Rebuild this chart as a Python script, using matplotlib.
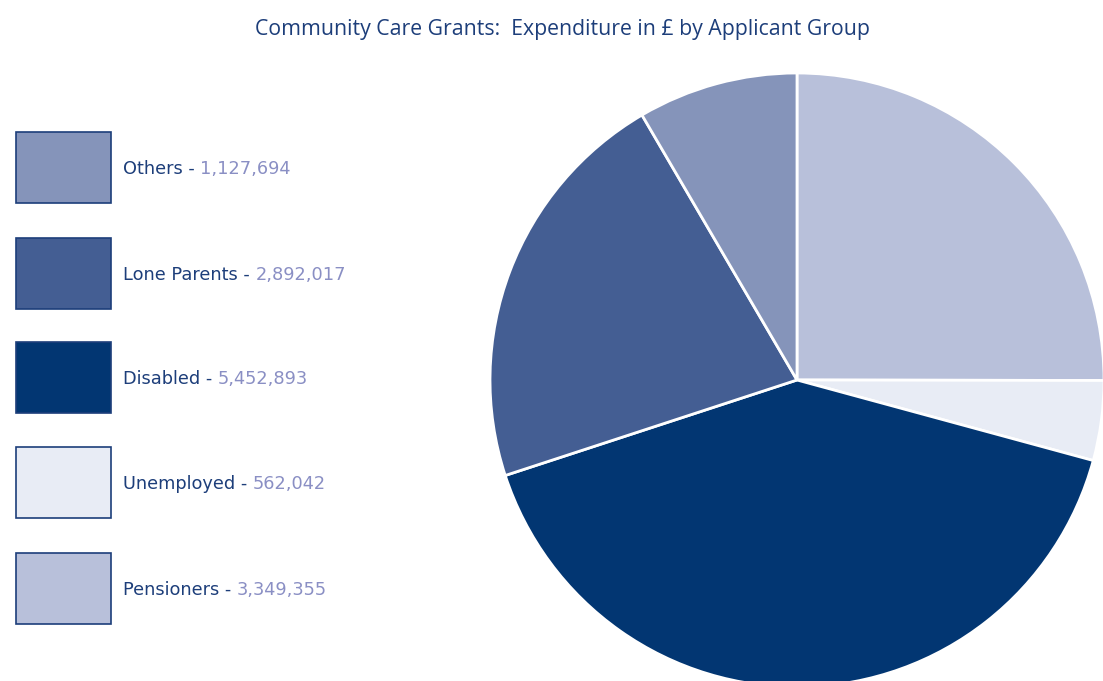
import matplotlib
matplotlib.use("Agg")
import matplotlib.pyplot as plt
from matplotlib.patches import Rectangle

categories = ["Pensioners", "Unemployed", "Disabled", "Lone Parents", "Others"]
values = [3349355, 562042, 5452893, 2892017, 1127694]
colors = ["#B8C0DA", "#E8ECF5", "#023672", "#445E93", "#8594BA"]
title = "Community Care Grants:  Expenditure in £ by Applicant Group"

W, H = 1103, 681
fig = plt.figure(figsize=(W / 100, H / 100), dpi=100)
fig.patch.set_facecolor("white")

# Pie axes (pixel geometry)
cx, cy, r = 797, 380, 307
ax = fig.add_axes([(cx - r) / W, (H - cy - r) / H, 2 * r / W, 2 * r / H])
wedges, _ = ax.pie(values, colors=colors, startangle=90, counterclock=False,
                   radius=1.0, wedgeprops=dict(edgecolor="white", linewidth=2))
for w in wedges:
    w.set_clip_on(False)
ax.set_xlim(-1, 1)
ax.set_ylim(-1, 1)
ax.set_aspect("equal")
ax.axis("off")

# Title
fig.text(562 / W, 1 - 29 / H, title, ha="center", va="center",
         fontsize=15.3, color="#1D3E7A", family="Open Sans")

# Legend (order top to bottom)
legend_order = ["Others", "Lone Parents", "Disabled", "Unemployed", "Pensioners"]
box_tops = [132, 238, 342, 447, 553]
for name, top in zip(legend_order, box_tops):
    i = categories.index(name)
    rect = Rectangle((16 / W, 1 - (top + 71) / H), 95 / W, 71 / H,
                     transform=fig.transFigure, facecolor=colors[i],
                     edgecolor="#1D3E7A", linewidth=1.2)
    fig.patches.append(rect)
    ty = 1 - (top + 37) / H
    t1 = fig.text(123 / W, ty, f"{name} - ", ha="left", va="center",
                  fontsize=12.8, color="#1D3E7A", family="DejaVu Sans")
    fig.canvas.draw()
    bb = t1.get_window_extent()
    fig.text(bb.x1 / W, ty, f"{values[i]:,}", ha="left", va="center",
             fontsize=12.8, color="#8A8FC4", family="DejaVu Sans")

fig.savefig("out.png", dpi=100, facecolor="white")
